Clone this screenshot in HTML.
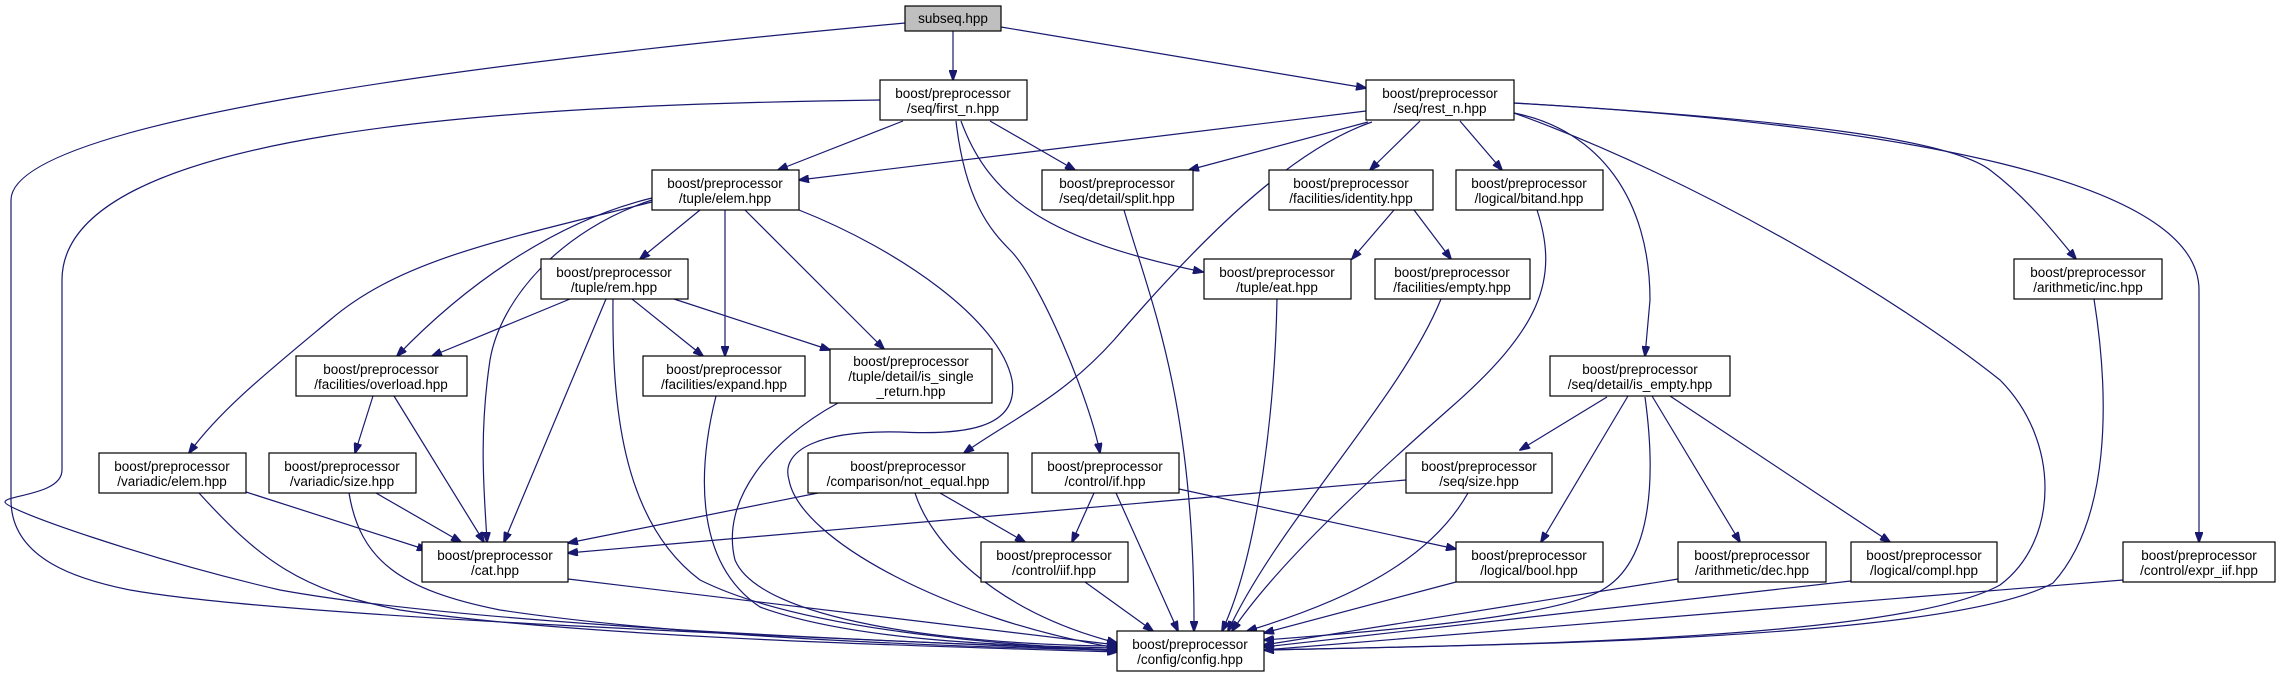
<!DOCTYPE html>
<html><head><meta charset="utf-8"><style>
html,body{margin:0;padding:0;background:#fff;}
svg{display:block;}
text{font-family:"Liberation Sans","DejaVu Sans",sans-serif;font-size:13.5px;fill:#000;text-anchor:middle;}
.n{fill:#fff;stroke:#000;stroke-width:1.2;}
.e{fill:none;stroke:#191970;stroke-width:1.2;}
</style></head><body>
<svg width="2280" height="677" viewBox="0 0 2280 677" xmlns="http://www.w3.org/2000/svg">
<defs><marker id="a" markerWidth="11" markerHeight="8" refX="10" refY="4" orient="auto" markerUnits="userSpaceOnUse"><path d="M0,0 L11,4 L0,8 z" fill="#191970" stroke="#191970"/></marker></defs>
<g class="e" marker-end="url(#a)">
<path d="M953,31 L953,80"/>
<path d="M1001,27 L1366,88"/>
<path d="M905,23 C500,60 11,120 11,200 L11,500 C11,560 80,580 130,590 C300,620 900,640 1117,651"/>
<path d="M880,100 C500,105 62,130 62,280 L62,470 C62,495 5,495 5,502 C5,510 150,560 280,590 C500,630 1000,645 1117,650"/>
<path d="M903,121 L778,170"/>
<path d="M990,121 L1075,170"/>
<path d="M961,121 C990,200 1050,240 1203,272"/>
<path d="M956,121 C965,200 990,230 1010,250 C1040,280 1090,400 1100,453"/>
<path d="M1366,111 L799,180"/>
<path d="M1368,122 L1189,170"/>
<path d="M1420,121 L1370,170"/>
<path d="M1460,121 L1502,170"/>
<path d="M1372,122 C1290,150 1200,240 1114,340 C1060,400 1010,420 964,453"/>
<path d="M1514,113 C1600,130 1650,200 1650,300 L1645,356"/>
<path d="M1514,103 C1800,120 1950,140 1990,170 C2030,200 2060,240 2076,259"/>
<path d="M1514,103 C1900,125 2199,180 2199,290 L2199,542"/>
<path d="M1514,113 C1700,180 1900,300 2000,380 C2060,440 2060,540 2000,585 C1900,640 1500,645 1264,650"/>
<path d="M2094,299 C2110,400 2110,520 2053,583 C1950,640 1500,645 1264,650"/>
<path d="M1277,299 C1275,400 1260,550 1222,631"/>
<path d="M1441,299 C1400,400 1280,520 1228,631"/>
<path d="M1537,210 C1560,280 1540,330 1448,410 C1380,470 1280,560 1232,631"/>
<path d="M1124,210 C1150,300 1195,400 1194,631"/>
<path d="M1394,210 L1352,259"/>
<path d="M1414,210 L1451,259"/>
<path d="M700,210 L640,259"/>
<path d="M725,210 L725,356"/>
<path d="M745,210 L884,349"/>
<path d="M799,210 C900,250 1000,320 1012,380 C1020,430 960,435 900,432 C820,430 780,450 789,480 C800,540 950,620 1117,648"/>
<path d="M652,198 C560,220 470,280 397,356"/>
<path d="M652,200 C560,230 500,300 490,360 C478,440 485,500 487,542"/>
<path d="M652,202 C500,240 400,260 330,320 C270,370 220,410 189,453"/>
<path d="M570,299 L432,356"/>
<path d="M632,299 L703,356"/>
<path d="M674,299 L830,350"/>
<path d="M606,299 L504,542"/>
<path d="M613,299 C612,400 620,520 700,580 C800,630 1000,645 1117,650"/>
<path d="M373,396 L355,453"/>
<path d="M394,396 L484,542"/>
<path d="M246,492 L427,550"/>
<path d="M199,493 C260,560 300,590 400,610 C600,640 1000,648 1117,652"/>
<path d="M376,493 L461,542"/>
<path d="M349,493 C360,560 400,590 500,610 C700,640 1000,648 1117,650"/>
<path d="M716,396 C700,460 690,560 760,607 C850,640 1000,646 1117,648"/>
<path d="M838,403 C770,440 720,500 735,560 C760,620 950,645 1117,646"/>
<path d="M568,579 L1117,645"/>
<path d="M818,493 L568,543"/>
<path d="M940,493 L1025,542"/>
<path d="M915,493 C930,540 990,610 1117,643"/>
<path d="M1094,493 L1072,542"/>
<path d="M1116,493 L1178,631"/>
<path d="M1179,489 L1456,549"/>
<path d="M1085,582 L1153,631"/>
<path d="M1406,480 L568,553"/>
<path d="M1468,493 C1430,560 1350,600 1247,631"/>
<path d="M1456,582 L1264,633"/>
<path d="M1607,397 L1520,450"/>
<path d="M1628,396 L1541,542"/>
<path d="M1645,397 C1655,470 1655,560 1602,590 C1560,615 1400,630 1264,640"/>
<path d="M1652,396 L1740,542"/>
<path d="M1670,396 L1890,542"/>
<path d="M1678,579 L1264,645"/>
<path d="M1851,581 L1264,647"/>
<path d="M2123,580 L1264,650"/>
</g>
<g>
<rect x="905" y="6" width="96" height="25" fill="#bfbfbf" stroke="#000" stroke-width="1.2"/><text x="953" y="23">subseq.hpp</text>
<rect class="n" x="880" y="80" width="147" height="40"/><text x="953" y="98">boost/preprocessor</text><text x="953" y="113">/seq/first_n.hpp</text>
<rect class="n" x="1366" y="80" width="148" height="40"/><text x="1440" y="98">boost/preprocessor</text><text x="1440" y="113">/seq/rest_n.hpp</text>
<rect class="n" x="652" y="170" width="147" height="40"/><text x="725" y="188">boost/preprocessor</text><text x="725" y="203">/tuple/elem.hpp</text>
<rect class="n" x="1042" y="170" width="151" height="40"/><text x="1117" y="188">boost/preprocessor</text><text x="1117" y="203">/seq/detail/split.hpp</text>
<rect class="n" x="1269" y="170" width="164" height="40"/><text x="1351" y="188">boost/preprocessor</text><text x="1351" y="203">/facilities/identity.hpp</text>
<rect class="n" x="1456" y="170" width="147" height="40"/><text x="1529" y="188">boost/preprocessor</text><text x="1529" y="203">/logical/bitand.hpp</text>
<rect class="n" x="541" y="259" width="147" height="40"/><text x="614" y="277">boost/preprocessor</text><text x="614" y="292">/tuple/rem.hpp</text>
<rect class="n" x="1204" y="259" width="147" height="40"/><text x="1277" y="277">boost/preprocessor</text><text x="1277" y="292">/tuple/eat.hpp</text>
<rect class="n" x="1375" y="259" width="155" height="40"/><text x="1452" y="277">boost/preprocessor</text><text x="1452" y="292">/facilities/empty.hpp</text>
<rect class="n" x="2014" y="259" width="148" height="40"/><text x="2088" y="277">boost/preprocessor</text><text x="2088" y="292">/arithmetic/inc.hpp</text>
<rect class="n" x="296" y="356" width="171" height="40"/><text x="381" y="374">boost/preprocessor</text><text x="381" y="389">/facilities/overload.hpp</text>
<rect class="n" x="643" y="356" width="162" height="40"/><text x="724" y="374">boost/preprocessor</text><text x="724" y="389">/facilities/expand.hpp</text>
<rect class="n" x="830" y="349" width="162" height="54"/><text x="911" y="366">boost/preprocessor</text><text x="911" y="381">/tuple/detail/is_single</text><text x="911" y="396">_return.hpp</text>
<rect class="n" x="1550" y="356" width="180" height="40"/><text x="1640" y="374">boost/preprocessor</text><text x="1640" y="389">/seq/detail/is_empty.hpp</text>
<rect class="n" x="99" y="453" width="147" height="40"/><text x="172" y="471">boost/preprocessor</text><text x="172" y="486">/variadic/elem.hpp</text>
<rect class="n" x="269" y="453" width="147" height="40"/><text x="342" y="471">boost/preprocessor</text><text x="342" y="486">/variadic/size.hpp</text>
<rect class="n" x="808" y="453" width="200" height="40"/><text x="908" y="471">boost/preprocessor</text><text x="908" y="486">/comparison/not_equal.hpp</text>
<rect class="n" x="1032" y="453" width="147" height="40"/><text x="1105" y="471">boost/preprocessor</text><text x="1105" y="486">/control/if.hpp</text>
<rect class="n" x="1406" y="453" width="146" height="40"/><text x="1479" y="471">boost/preprocessor</text><text x="1479" y="486">/seq/size.hpp</text>
<rect class="n" x="422" y="542" width="146" height="40"/><text x="495" y="560">boost/preprocessor</text><text x="495" y="575">/cat.hpp</text>
<rect class="n" x="981" y="542" width="147" height="40"/><text x="1054" y="560">boost/preprocessor</text><text x="1054" y="575">/control/iif.hpp</text>
<rect class="n" x="1456" y="542" width="147" height="40"/><text x="1529" y="560">boost/preprocessor</text><text x="1529" y="575">/logical/bool.hpp</text>
<rect class="n" x="1678" y="542" width="148" height="40"/><text x="1752" y="560">boost/preprocessor</text><text x="1752" y="575">/arithmetic/dec.hpp</text>
<rect class="n" x="1851" y="542" width="146" height="40"/><text x="1924" y="560">boost/preprocessor</text><text x="1924" y="575">/logical/compl.hpp</text>
<rect class="n" x="2123" y="542" width="152" height="40"/><text x="2199" y="560">boost/preprocessor</text><text x="2199" y="575">/control/expr_iif.hpp</text>
<rect class="n" x="1117" y="631" width="147" height="40"/><text x="1190" y="649">boost/preprocessor</text><text x="1190" y="664">/config/config.hpp</text>
</g>
</svg>
</body></html>
